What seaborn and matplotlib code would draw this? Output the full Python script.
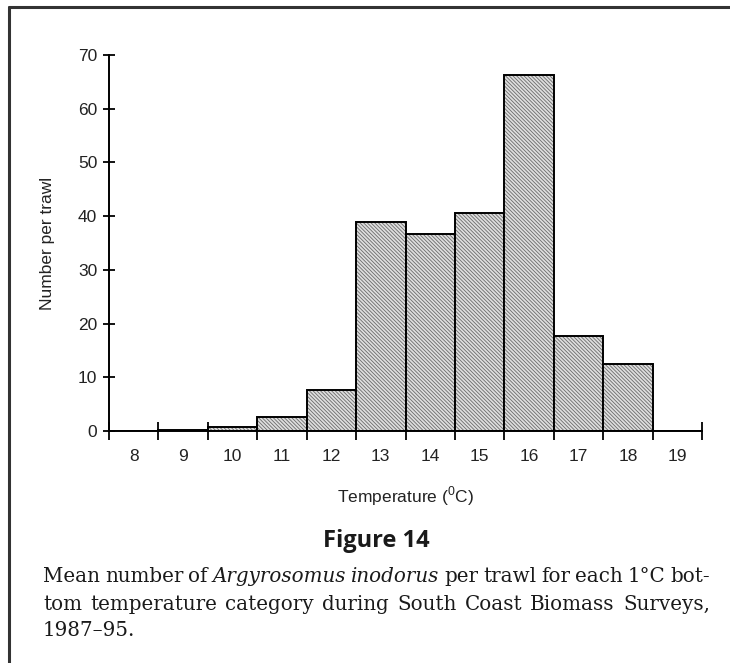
import matplotlib
matplotlib.use('Agg')
import matplotlib.pyplot as plt
import matplotlib.colors as mcolors
from matplotlib.lines import Line2D
import seaborn as sns
import pandas as pd
import numpy as np

# ---- data ----
temperatures = ['8', '9', '10', '11', '12', '13', '14', '15', '16', '17', '18', '19']
number_per_trawl = [0.0, 0.15, 0.7, 2.6, 7.6, 39.0, 36.7, 40.6, 66.2, 17.7, 12.5, 0.0]
y_ticks = [0, 10, 20, 30, 40, 50, 60, 70]
x_label = r'Temperature ($^{\mathregular{0}}$C)'
y_label = 'Number per trawl'
figure_title = 'Figure 14'

sns.set_theme(style='white')
sans = ['Liberation Sans Narrow', 'Liberation Sans', 'DejaVu Sans']
plt.rcParams['font.family'] = sans
plt.rcParams['mathtext.fontset'] = 'custom'
plt.rcParams['mathtext.rm'] = 'Liberation Sans Narrow'
plt.rcParams['hatch.linewidth'] = 0.6

W, H = 730, 663
fig = plt.figure(figsize=(W / 100, H / 100), dpi=100)
fig.patch.set_facecolor('white')


def fx(px):
    return px / W


def fy(py):
    return 1 - py / H


ax = fig.add_axes([fx(109), fy(431), fx(702) - fx(109), fy(55) - fy(431)])
ax.set_facecolor('white')

df = pd.DataFrame({'Temperature': temperatures, 'Number': number_per_trawl})
sns.barplot(data=df, x='Temperature', y='Number', order=temperatures,
            width=1.0, color='#dedede', saturation=1, edgecolor='black',
            linewidth=1.4, hatch='\\' * 9, errorbar=None, ax=ax)
hatch_rgba = mcolors.to_rgba('#6a6a6a')
for p in ax.patches:
    if hasattr(p, 'set_hatchcolor'):
        p.set_hatchcolor(hatch_rgba)
    else:
        p._hatch_color = hatch_rgba

ax.set_xlim(-0.5, len(temperatures) - 0.5)
ax.set_ylim(0, 70)

for s in ['top', 'right']:
    ax.spines[s].set_visible(False)
for s in ['left', 'bottom']:
    ax.spines[s].set_color('black')
    ax.spines[s].set_linewidth(1.4)

ax.set_yticks(y_ticks)
ax.set_yticklabels([str(v) for v in y_ticks])
ax.tick_params(axis='y', which='major', direction='inout', length=9, width=1.3,
               color='black', labelsize=12.5, pad=4, left=True, labelcolor='#222222')

ax.set_xticks(np.arange(-0.5, len(temperatures), 1.0))
ax.set_xticklabels([])
ax.tick_params(axis='x', which='major', direction='inout', length=13, width=1.3,
               color='black', bottom=True)
ax.set_xticks(np.arange(len(temperatures)), minor=True)
ax.set_xticklabels(temperatures, minor=True)
ax.tick_params(axis='x', which='minor', length=0, labelsize=12.5, pad=13,
               labelcolor='#222222')

ax.set_xlabel('')
ax.set_ylabel('')
ax.grid(False)

fig.text(fx(48), fy(243), y_label, rotation=90, ha='center', va='center',
         fontsize=12.5, color='#222222')
fig.text(fx(405), fy(496), x_label, ha='center', va='center',
         fontsize=12.5, color='#222222')
fig.text(fx(376), fy(541), figure_title, ha='center', va='center',
         fontsize=17, fontweight='bold', family=['Open Sans', 'DejaVu Sans'],
         color='#1a1a1a')

# ---- caption (justified) ----
caption_lines = [
    [('Mean', 'normal'), ('number', 'normal'), ('of', 'normal'),
     ('Argyrosomus', 'italic'), ('inodorus', 'italic'), ('per', 'normal'),
     ('trawl', 'normal'), ('for', 'normal'), ('each', 'normal'),
     ('1\u00b0C', 'normal'), ('bot-', 'normal')],
    [('tom', 'normal'), ('temperature', 'normal'), ('category', 'normal'),
     ('during', 'normal'), ('South', 'normal'), ('Coast', 'normal'),
     ('Biomass', 'normal'), ('Surveys,', 'normal')],
    [('1987\u201395.', 'normal')],
]
caption_y = [577, 604, 631]
cap_x0, cap_x1 = 43, 710
cap_family = 'DejaVu Serif'

renderer = fig.canvas.get_renderer()

# choose a size so that line 1 fits with natural word spacing
s0 = 12.0
probe = [fig.text(0, 0, w, fontsize=s0, family=cap_family, style=st)
         for w, st in caption_lines[0]]
w0 = sum(t.get_window_extent(renderer).width for t in probe)
for t in probe:
    t.remove()
space_em = 0.26
n_gap = len(caption_lines[0]) - 1
cap_size = s0 * (cap_x1 - cap_x0) / (w0 + n_gap * space_em * s0 * 100 / 72)

for li, (words, y) in enumerate(zip(caption_lines, caption_y)):
    texts = []
    for w, st in words:
        t = fig.text(0, fy(y), w, fontsize=cap_size, family=cap_family,
                     style=st, ha='left', va='center', color='#1a1a1a')
        texts.append(t)
    widths = [t.get_window_extent(renderer).width for t in texts]
    if li < 2 and len(texts) > 1:
        gap = ((cap_x1 - cap_x0) - sum(widths)) / (len(texts) - 1)
    else:
        gap = space_em * cap_size * 100 / 72
    x = cap_x0
    for t, wd in zip(texts, widths):
        t.set_x(fx(x))
        x += wd + gap

# ---- frame ----
fig.add_artist(Line2D([fx(9), 1.0], [fy(7), fy(7)], color='#333333', lw=2.2))
fig.add_artist(Line2D([fx(9), fx(9)], [fy(7), 0.0], color='#333333', lw=2.2))

fig.savefig('out.png', dpi=100, facecolor='white')
